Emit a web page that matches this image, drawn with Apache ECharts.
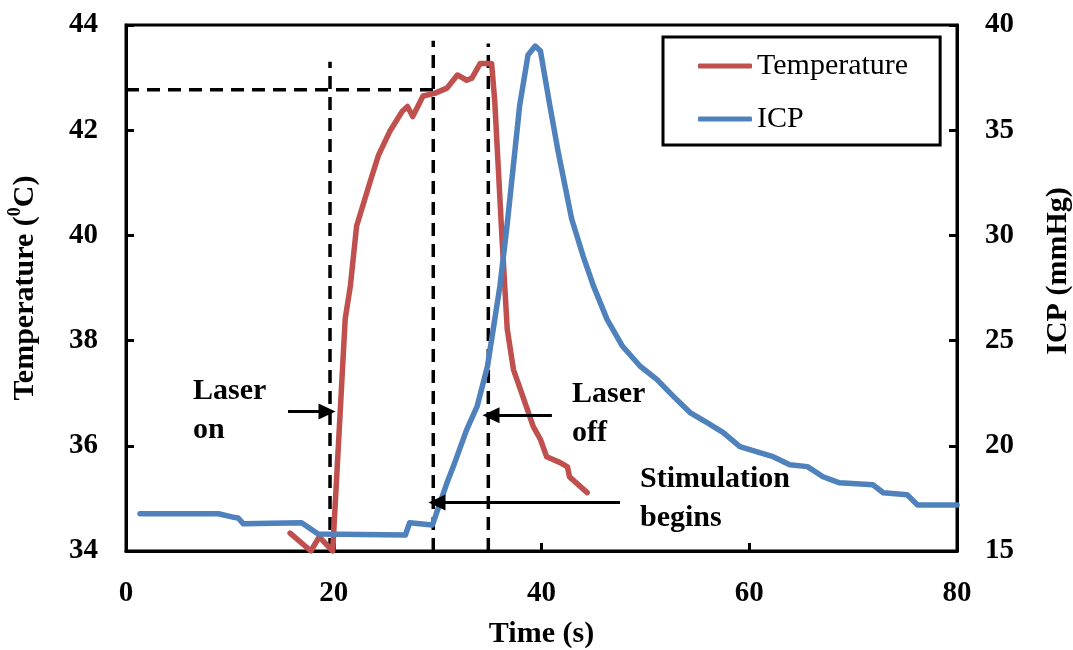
<!DOCTYPE html>
<html>
<head>
<meta charset="utf-8">
<script src="https://cdn.jsdelivr.net/npm/echarts@6/dist/echarts.min.js"></script>
<style>html,body{margin:0;padding:0;background:#fff}#c{width:1073px;height:650px}</style>
</head>
<body>
<div id="c"></div>
<script>
// Temperature (°C) vs time (s)
const temperature = [
  [15.8,34.34],[17.8,34.0],[18.6,34.27],[19.9,34.0],[21.1,38.41],[21.6,39.04],[22.2,40.18],
  [23.5,41.02],[24.3,41.52],[25.4,41.98],[26.6,42.36],[27.1,42.45],[27.6,42.26],[28.6,42.65],
  [29.7,42.70],[30.9,42.80],[31.9,43.05],[32.8,42.95],[33.3,42.99],[34.1,43.27],[35.2,43.27],
  [35.5,42.55],[36.2,39.94],[36.7,38.22],[37.3,37.45],[38.2,36.94],[39.2,36.37],[39.9,36.12],
  [40.5,35.79],[41.8,35.68],[42.5,35.60],[42.7,35.41],[44.4,35.11]
];
// ICP (mmHg) vs time (s)
const icp = [
  [1.35,16.77],[8.9,16.77],[10.2,16.62],[10.8,16.57],[11.3,16.29],[16.9,16.34],[18.5,15.81],
  [26.9,15.76],[27.3,16.34],[29.5,16.24],[29.6,16.38],[30.0,16.96],[30.9,18.24],[31.5,19.0],
  [32.8,20.77],[33.8,21.87],[34.8,23.78],[36.0,27.6],[36.7,30.55],[37.9,36.18],[38.7,38.57],
  [39.4,39.0],[39.9,38.76],[40.8,36.18],[41.6,33.99],[42.9,30.79],[44.0,29.03],[45.0,27.6],
  [46.3,26.02],[47.8,24.73],[49.5,23.78],[51.1,23.16],[52.7,22.35],[54.3,21.58],[55.9,21.11],
  [57.5,20.63],[59.1,19.96],[61.0,19.68],[62.3,19.48],[63.9,19.10],[65.6,19.01],[67.1,18.53],
  [68.7,18.24],[71.9,18.15],[72.9,17.77],[75.2,17.67],[76.2,17.19],[80.0,17.19]
];
// dashed guide lines (time, temperature)
const guideLaserOn = [[19.64,34],[19.64,43.3]];
const guideStim = [[29.58,34],[29.58,43.7]];
const guideLaserOff = [[34.88,34],[34.88,43.65]];
const guideLevel = [[0,42.77],[29.58,42.77]];
// arrows [from, to] in (time, temperature)
const arrowLaserOn = [[15.6,36.65],[19.35,36.65]];
const arrowLaserOff = [[41.0,36.58],[35.14,36.58]];
const arrowStim = [[47.56,34.92],[29.94,34.92]];

const xTicks = {min:0, max:80, interval:20};
const tTicks = {min:34, max:44, interval:2};
const pTicks = {min:15, max:40, interval:5};

const FONT = 'Liberation Serif';
const chart = echarts.init(document.getElementById('c'), null, {renderer:'canvas'});

function guide(data){
  return {type:'line', data, yAxisIndex:0, symbol:'none', silent:true, z:1,
    lineStyle:{color:'#000', width:3.5, type:[13,8]}};
}
function arrow(a){
  return {type:'line', data:[], yAxisIndex:0, symbol:'none', silent:true,
    markLine:{silent:true, symbol:['none','triangle'], symbolSize:[16,17], animation:false,
      label:{show:false}, lineStyle:{color:'#000', width:3, type:'solid'},
      data:[[{coord:a[0]},{coord:a[1]}]]}};
}
const axisCommon = {
  axisLine:{show:true, lineStyle:{color:'#000', width:3}},
  axisTick:{show:true, inside:true, length:8, lineStyle:{color:'#000', width:3}},
  splitLine:{show:false},
  axisLabel:{color:'#000', fontFamily:FONT, fontWeight:'bold', fontSize:29, margin:28},
  nameTextStyle:{color:'#000', fontFamily:FONT, fontWeight:'bold', fontSize:30}
};

chart.setOption({
  animation:false,
  backgroundColor:'#fff',
  grid:{left:126, right:116, top:25, bottom:99, show:true, borderColor:'#000', borderWidth:3,
    containLabel:false, outerBoundsMode:'none'},
  legend:{
    data:['Temperature','ICP'], orient:'vertical', left:663, top:37,
    padding:[14,32,11,35], itemGap:23, itemWidth:54, itemHeight:5,
    icon:'roundRect', borderColor:'#000', borderWidth:3, backgroundColor:'#fff',
    textStyle:{color:'#000', fontFamily:FONT, fontSize:30, lineHeight:30}
  },
  xAxis:Object.assign({type:'value', ...xTicks, name:'Time (s)', nameLocation:'middle', nameGap:68}, axisCommon),
  yAxis:[
    Object.assign({type:'value', ...tTicks, name:'{a|Temperature (}{s|0}{a|C)}', nameLocation:'middle', nameGap:86, nameRotate:90}, axisCommon,
      {nameTextStyle:{color:'#000', fontFamily:FONT, fontWeight:'bold', fontSize:30,
        rich:{a:{fontFamily:FONT, fontWeight:'bold', fontSize:30, lineHeight:34, verticalAlign:'bottom'},
              s:{fontFamily:FONT, fontWeight:'bold', fontSize:18, lineHeight:34, verticalAlign:'top', padding:[0,0,14,0]}}}}),
    Object.assign({type:'value', ...pTicks, position:'right', name:'ICP (mmHg)', nameLocation:'middle', nameGap:86, nameRotate:90}, axisCommon,
      {nameTextStyle:{color:'#000', fontFamily:FONT, fontWeight:'bold', fontSize:30, padding:[0,0,0,34]}})
  ],
  series:[
    guide(guideLaserOn), guide(guideStim), guide(guideLaserOff), guide(guideLevel),
    {name:'Temperature', type:'line', data:temperature, yAxisIndex:0, symbol:'none', z:3,
      lineStyle:{color:'#C0504D', width:5.5, cap:'round', join:'round'}, itemStyle:{color:'#C0504D'}},
    {name:'ICP', type:'line', data:icp, yAxisIndex:1, symbol:'none', z:3,
      lineStyle:{color:'#4F81BD', width:5.5, cap:'round', join:'round'}, itemStyle:{color:'#4F81BD'}},
    arrow(arrowLaserOn), arrow(arrowLaserOff), arrow(arrowStim)
  ],
  graphic:[
    {type:'text', left:193, top:372, style:{text:'Laser\non', fontFamily:FONT, fontWeight:'bold', fontSize:30, lineHeight:39, fill:'#000'}},
    {type:'text', left:572, top:375, style:{text:'Laser\noff', fontFamily:FONT, fontWeight:'bold', fontSize:30, lineHeight:39, fill:'#000'}},
    {type:'text', left:640, top:460, style:{text:'Stimulation\nbegins', fontFamily:FONT, fontWeight:'bold', fontSize:30, lineHeight:39, fill:'#000'}}
  ]
});
</script>
</body>
</html>
